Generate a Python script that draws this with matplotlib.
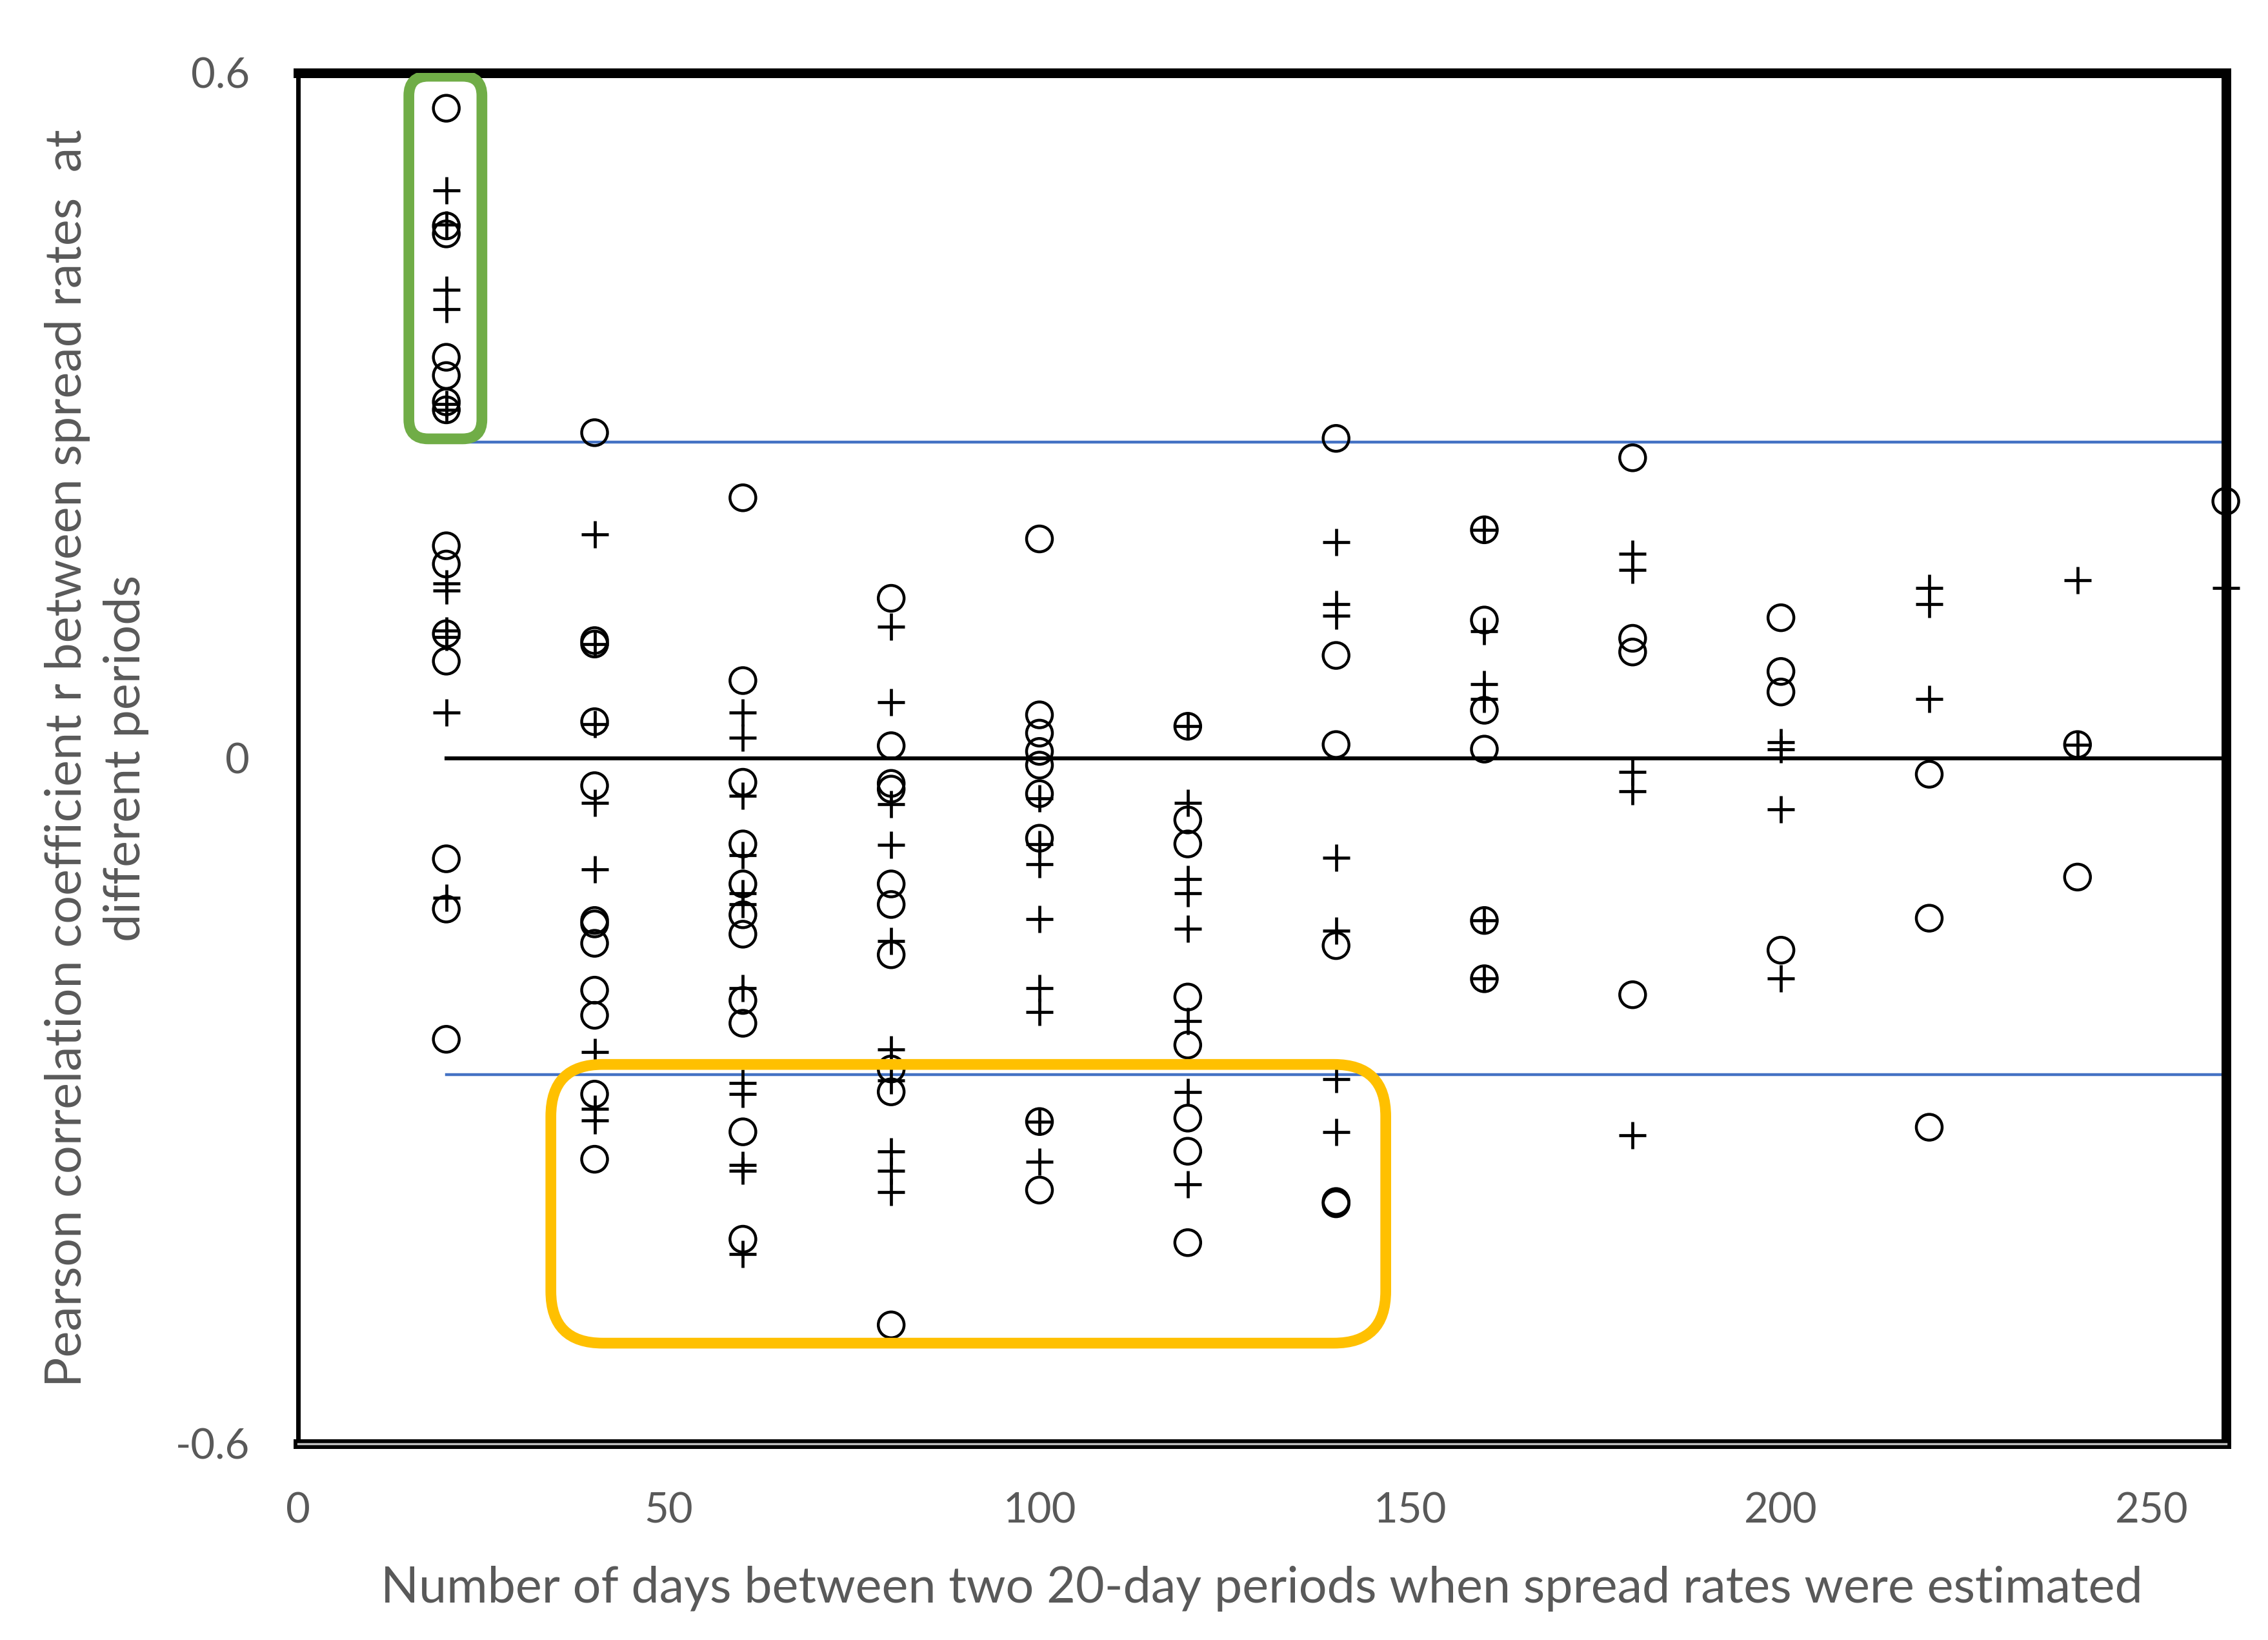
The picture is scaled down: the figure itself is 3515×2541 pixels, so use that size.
import matplotlib.pyplot as plt
from matplotlib.patches import FancyBboxPatch

# lag between the two 20-day periods (days)
days = [20, 40, 60, 80, 100, 120, 140, 160, 180, 200, 220, 240, 260]

# correlation values drawn as open circles, one list per lag
circle_r = [
    [0.569, 0.466, 0.459, 0.351, 0.335, 0.312, 0.305, 0.186, 0.170, 0.109, 0.085, -0.088, -0.132, -0.246],
    [0.285, 0.103, 0.100, 0.032, -0.024, -0.142, -0.145, -0.162, -0.203, -0.225, -0.294, -0.351],
    [0.228, 0.068, -0.021, -0.075, -0.110, -0.137, -0.154, -0.212, -0.232, -0.327, -0.421],
    [0.140, 0.011, -0.022, -0.027, -0.110, -0.128, -0.172, -0.272, -0.292, -0.496],
    [0.192, 0.038, 0.022, 0.006, -0.006, -0.031, -0.070, -0.318, -0.378],
    [0.028, -0.054, -0.075, -0.209, -0.251, -0.315, -0.344, -0.424],
    [0.280, 0.090, 0.012, -0.164, -0.388, -0.390],
    [0.200, 0.121, 0.042, 0.008, -0.142, -0.193],
    [0.263, 0.105, 0.093, -0.207],
    [0.123, 0.076, 0.058, -0.168],
    [-0.014, -0.140, -0.323],
    [0.012, -0.104],
    [0.225],
]

# correlation values drawn as plus signs
plus_r = [
    [0.497, 0.467, 0.410, 0.393, 0.310, 0.305, 0.153, 0.147, 0.112, 0.106, 0.040, -0.122],
    [0.196, 0.100, 0.030, -0.039, -0.097, -0.257, -0.307, -0.317],
    [0.040, 0.018, -0.033, -0.085, -0.118, -0.128, -0.201, -0.284, -0.294, -0.356, -0.361, -0.434],
    [0.115, 0.049, -0.040, -0.076, -0.160, -0.255, -0.282, -0.344, -0.361, -0.380],
    [-0.035, -0.075, -0.093, -0.141, -0.201, -0.222, -0.318, -0.353],
    [0.028, -0.039, -0.106, -0.118, -0.149, -0.230, -0.292, -0.373],
    [0.189, 0.135, 0.125, -0.087, -0.151, -0.281, -0.327],
    [0.200, 0.111, 0.065, 0.052, -0.142, -0.193],
    [0.179, 0.165, -0.012, -0.029, -0.330],
    [0.014, 0.008, -0.045, -0.193],
    [0.149, 0.135, 0.052],
    [0.156, 0.012],
    [0.149],
]

threshold = 0.277

# highlight boxes: (x0, x1, y0, y1)
green_box = (14.95, 24.8, 0.2796, 0.597)
orange_box = (34.1, 146.7, -0.512, -0.268)

plt.rcParams['font.family'] = ['Lato', 'DejaVu Sans']
grey = '#595959'

fig = plt.figure(figsize=(17.575, 12.705), dpi=200)
ax = fig.add_axes([0.1314, 0.1197, 0.8500, 0.8359])
ax.set_xlim(0, 260)
ax.set_ylim(-0.6, 0.6)

cx = [d for d, vals in zip(days, circle_r) for _ in vals]
cy = [v for vals in circle_r for v in vals]
px = [d for d, vals in zip(days, plus_r) for _ in vals]
py = [v for vals in plus_r for v in vals]

ax.plot([days[0], days[-1]], [0, 0], color='black', lw=2.2, zorder=2)
ax.plot([days[0], days[-1]], [threshold, threshold], color='#4472C4', lw=1.6, zorder=2)
ax.plot([days[0], days[-1]], [-threshold, -threshold], color='#4472C4', lw=1.6, zorder=2)

ax.scatter(cx, cy, s=14.4 ** 2, marker='o', facecolors='none', edgecolors='black',
           linewidths=1.6, zorder=3, clip_on=False)
ax.scatter(px, py, s=14.8 ** 2, marker='+', color='black', linewidths=1.7,
           zorder=3, clip_on=False)

# rounded boxes, corner radius kept equal in pixels
fig.canvas.draw()
bb = ax.get_window_extent()
asp = (bb.width / 260) / (bb.height / 1.2)
for (x0, x1, y0, y1), col, rad in [(green_box, '#70AD47', 2.6), (orange_box, '#FFC000', 7.0)]:
    ax.add_patch(FancyBboxPatch((x0, y0), x1 - x0, y1 - y0,
                                boxstyle=f"round,pad=0,rounding_size={rad}",
                                mutation_aspect=asp, fill=False, edgecolor=col,
                                lw=6.0, zorder=4))

ax.set_xticks([0, 50, 100, 150, 200, 250])
ax.set_xticklabels(['0', '50', '100', '150', '200', '250'])
ax.set_yticks([-0.6, 0, 0.6])
ax.set_yticklabels(['-0.6', '0', '0.6'])
ax.tick_params(length=0, labelsize=23.5, colors=grey, pad=27)
ax.tick_params(axis='x', pad=27)

for side, lw in [('top', 5.4), ('right', 5.4), ('bottom', 5.4), ('left', 2.5)]:
    ax.spines[side].set_linewidth(lw)
    ax.spines[side].set_color('black')
ax.axhline(-0.6, color='#BFBFBF', lw=1.2, zorder=5, clip_on=False)

ax.set_xlabel('Number of days between two 20-day periods when spread rates were estimated',
              fontsize=27.8, color=grey, labelpad=20)
fig.text(0.0427, 0.5376,
         'Pearson correlation coefficient r between spread rates  at\ndifferent periods',
         rotation=90, ha='center', va='center', multialignment='center',
         fontsize=27.8, color=grey, linespacing=1.35)

fig.savefig('out.png', dpi=200)
